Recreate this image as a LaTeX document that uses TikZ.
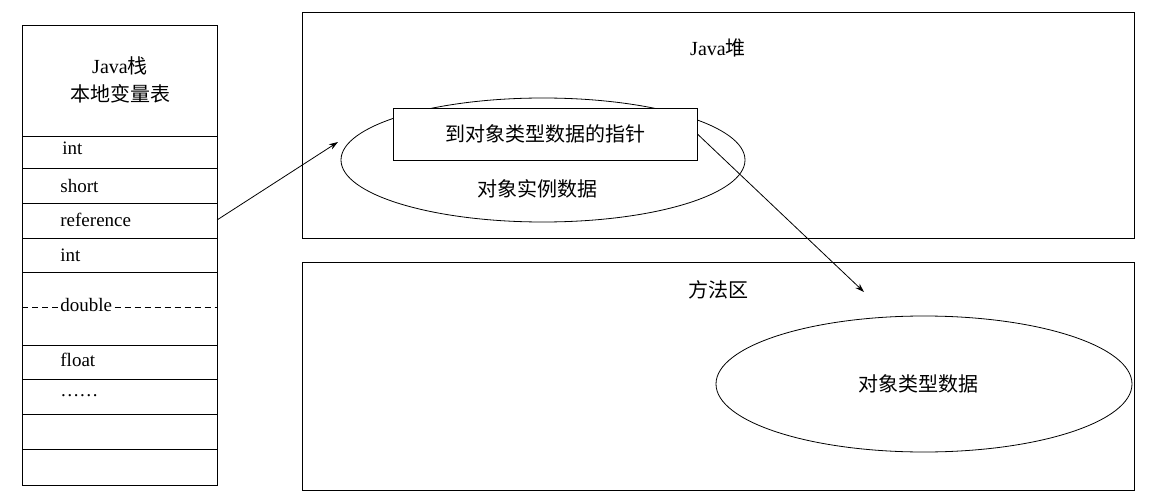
\documentclass[tikz,border=0pt]{standalone}
\usepackage{fontspec}
\setmainfont{Liberation Serif}
\newfontfamily\cjk{Noto Sans CJK SC}
\usetikzlibrary{shapes.geometric,arrows.meta}
\begin{document}
\begin{tikzpicture}[x=1pt,y=-1pt,line width=0.8pt,
  lbl/.style={font=\fontsize{19}{21}\selectfont,anchor=west,inner sep=0},
  ctxt/.style={font=\cjk\fontsize{20}{28}\selectfont,inner sep=0,align=center},
  arr/.style={-{Stealth[length=9pt,width=6pt]}}]
\useasboundingbox (0,0) rectangle (1152,500);
\draw (22,25) rectangle (217,485);
\foreach \y in {136,168,203,238,272,345,379,414,449} \draw (22,\y) -- (217,\y);
\node[ctxt] (title) at (120,80) {{\rmfamily Java}栈\\本地变量表};
\node[lbl] (r1) at (62,148) {int};
\node[lbl] (r2) at (60,186) {short};
\node[lbl] (r3) at (60,220) {reference};
\node[lbl] (r4) at (60,255) {int};
\node[lbl,inner xsep=2pt] (r5) at (58,305) {double};
\node[lbl] (r6) at (60,360) {float};
\node[lbl] (r7) at (60,396) {\ldots\ldots};
\draw[dash pattern=on 6pt off 4pt] (22,307) -- (58,307);
\draw[dash pattern=on 6pt off 4pt] (r5.east |- 0,307) -- (217,307);
\draw (302,12) rectangle (1134,238);
\draw (302,262) rectangle (1134,490);
\node[ctxt] (heap) at (718,48) {{\rmfamily Java}堆};
\node[ctxt] (method) at (718,290) {方法区};
\node[draw,ellipse,minimum width=404,minimum height=124,inner sep=0] (e1) at (543,160) {};
\node[draw,fill=white,minimum width=304,minimum height=52,ctxt] (ptr) at (545,134) {到对象类型数据的指针};
\node[ctxt] (inst) at (537,189) {对象实例数据};
\node[draw,ellipse,minimum width=416,minimum height=136,inner sep=0] (e2) at (924,384) {};
\node[ctxt] (type) at (918,384) {对象类型数据};
\coordinate (a1) at (217,220);
\coordinate (a2) at (338,142);
\coordinate (b2) at (864,292);
\draw[arr] (a1) -- (a2);
\draw[arr] (ptr.east) -- (b2);
\end{tikzpicture}
\end{document}
